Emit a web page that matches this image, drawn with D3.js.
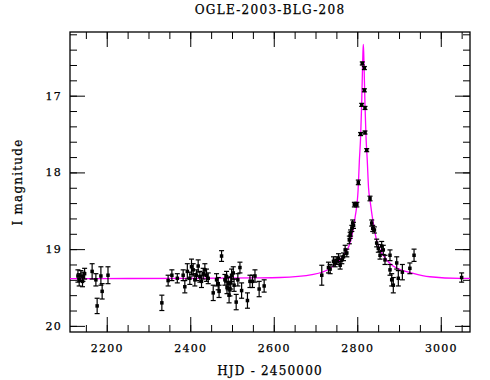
<!DOCTYPE html>
<html>
<head>
<meta charset="utf-8">
<script src="https://cdn.jsdelivr.net/npm/d3@7"></script>
<style>
  body { margin: 0; background: #fff; }
  svg text { font-family: "DejaVu Serif", serif; fill: #000; }
</style>
</head>
<body>
<svg id="chart" width="490" height="380"></svg>
<script>
// photometry
var hjd = [2131, 2134, 2138, 2142, 2143, 2147, 2165, 2174, 2177, 2186, 2189, 2203,
  2332, 2347, 2356, 2369, 2383, 2387, 2393, 2399, 2403, 2407, 2411, 2415, 2419, 2423,
  2427, 2431, 2435, 2439, 2443, 2455, 2463, 2467, 2469, 2475, 2483, 2487, 2488, 2491,
  2493, 2495, 2497, 2499, 2503, 2505, 2510, 2514, 2519, 2523, 2537, 2543, 2549, 2555,
  2565, 2577,
  2715, 2731, 2735, 2743, 2747, 2751, 2755, 2759, 2763, 2767, 2771, 2775, 2781, 2783,
  2784, 2787, 2789, 2791, 2793, 2799, 2802.5, 2808, 2810.6, 2812, 2817, 2817, 2818.5,
  2818.5, 2822.6, 2830.5, 2834.6, 2837, 2841, 2846.5, 2850.4, 2854.5, 2858.5, 2862.3,
  2866.4, 2878.4, 2878.4, 2882.5, 2886.3, 2894.5, 2898.3, 2908, 2926, 2936, 3050];
var mag = [19.35, 19.40, 19.35, 19.42, 19.36, 19.32, 19.29, 19.40, 19.74, 19.35, 19.55, 19.34,
  19.70, 19.41, 19.34, 19.38, 19.34, 19.49, 19.29, 19.38, 19.23, 19.27, 19.40, 19.34, 19.22, 19.36,
  19.42, 19.32, 19.27, 19.34, 19.38, 19.57, 19.40, 19.45, 19.55, 19.09, 19.40, 19.36, 19.50, 19.45,
  19.60, 19.53, 19.44, 19.34, 19.31, 19.47, 19.69, 19.40, 19.24, 19.54, 19.67, 19.42, 19.42, 19.35,
  19.52, 19.48,
  19.34, 19.24, 19.26, 19.16, 19.18, 19.15, 19.12, 19.21, 19.14, 19.10, 19.01, 19.05, 18.88, 18.82,
  18.79, 18.73, 18.66, 18.69, 18.42, 18.42, 18.13, 17.50, 17.12, 16.58, 16.64, 16.93, 17.16,
  17.48, 17.71, 18.34, 18.66, 18.73, 18.75, 18.92, 18.99, 19.08, 18.96, 19.01,
  19.14, 19.08, 19.27, 19.40, 19.47, 19.18, 19.38, 19.30, 19.25, 19.08, 19.37];
var magErr = [0.08, 0.08, 0.07, 0.07, 0.06, 0.07, 0.10, 0.08, 0.10, 0.12, 0.10, 0.11,
  0.10, 0.07, 0.07, 0.06, 0.07, 0.08, 0.10, 0.08, 0.10, 0.08, 0.08, 0.07, 0.08, 0.07,
  0.08, 0.07, 0.08, 0.08, 0.07, 0.10, 0.08, 0.08, 0.08, 0.07, 0.07, 0.07, 0.08, 0.08,
  0.10, 0.08, 0.08, 0.08, 0.08, 0.08, 0.10, 0.08, 0.07, 0.10, 0.10, 0.08, 0.08, 0.08,
  0.10, 0.08,
  0.13, 0.07, 0.06, 0.06, 0.05, 0.05, 0.06, 0.05, 0.05, 0.05, 0.06, 0.05, 0.05, 0.04,
  0.04, 0.04, 0.04, 0.04, 0.03, 0.03, 0.03, 0.02, 0.02, 0.02, 0.02, 0.02, 0.02,
  0.02, 0.02, 0.03, 0.04, 0.04, 0.04, 0.05, 0.05, 0.05, 0.06, 0.06,
  0.06, 0.07, 0.07, 0.08, 0.10, 0.08, 0.10, 0.10, 0.07, 0.08, 0.06];

// fitted model curve
var modelHjd = [2112, 2250, 2400, 2550, 2615, 2695, 2735, 2767, 2785, 2795, 2802, 2805,
  2808, 2810.5, 2812.5, 2813.5, 2814.5, 2815.5, 2816.5, 2818.5, 2821, 2824, 2827, 2831,
  2838, 2846, 2862, 2886, 2934, 2974, 3046, 3070];
var modelMag = [19.385, 19.383, 19.38, 19.375, 19.37, 19.33, 19.25, 19.08, 18.88, 18.58, 18.23, 17.85,
  17.54, 17.12, 16.66, 16.45, 16.33, 16.45, 16.66, 17.12, 17.54, 17.85, 18.2, 18.38,
  18.65, 18.88, 19.08, 19.22, 19.315, 19.36, 19.38, 19.38];

var xMajor = [2200, 2400, 2600, 2800, 3000];
var yMajor = [17, 18, 19, 20];

(function(){
  var svg = d3.select("#chart");
  var pL = 70, pR = 470, pT = 32, pB = 332;

  var x = d3.scaleLinear().domain([2112, 3070]).range([pL, pR]);
  var y = d3.scaleLinear().domain([16.17, 20.08]).range([pT, pB]);

  var xMinor = d3.range(2150, 3070, 50);
  var yMinor = d3.range(16.2, 20.08, 0.2).map(function(v){ return +v.toFixed(1); });

  function addAxis(gen, tx, ty){
    var g = svg.append("g").attr("transform", "translate(" + tx + "," + ty + ")").call(gen);
    g.select(".domain").remove();
    g.selectAll("line").attr("stroke", "#000").attr("stroke-width", 1);
    g.selectAll("text").style("font-family", "DejaVu Serif").style("font-size", "11px")
      .style("letter-spacing", "1.2px").attr("fill", "#000")
      .attr("stroke", "#000").attr("stroke-width", 0.25);
    return g;
  }

  // minor ticks on all four sides
  addAxis(d3.axisBottom(x).tickValues(xMinor).tickSize(-7).tickFormat(""), 0, pB);
  addAxis(d3.axisTop(x).tickValues(xMinor).tickSize(-7).tickFormat(""), 0, pT);
  addAxis(d3.axisLeft(y).tickValues(yMinor).tickSize(-7).tickFormat(""), pL, 0);
  addAxis(d3.axisRight(y).tickValues(yMinor).tickSize(-7).tickFormat(""), pR, 0);

  // major ticks, labels on bottom and left only
  addAxis(d3.axisBottom(x).tickValues(xMajor).tickSize(-15).tickPadding(12).tickFormat(d3.format("d")), 0, pB);
  addAxis(d3.axisTop(x).tickValues(xMajor).tickSize(-15).tickFormat(""), 0, pT);
  addAxis(d3.axisLeft(y).tickValues(yMajor).tickSize(-15).tickPadding(8).tickFormat(d3.format("d")), pL, 0);
  addAxis(d3.axisRight(y).tickValues(yMajor).tickSize(-15).tickFormat(""), pR, 0);

  // frame
  svg.append("rect")
    .attr("x", pL).attr("y", pT)
    .attr("width", pR - pL).attr("height", pB - pT)
    .attr("fill", "none").attr("stroke", "#000").attr("stroke-width", 1.3);

  // model
  var pts = modelHjd.map(function(t, i){ return [t, modelMag[i]]; });
  svg.append("path")
    .datum(pts)
    .attr("fill", "none")
    .attr("stroke", "#ff00ff")
    .attr("stroke-width", 1.3)
    .attr("d", d3.line().x(function(d){ return x(d[0]); }).y(function(d){ return y(d[1]); })
      .curve(d3.curveMonotoneX));

  // data with error bars
  var data = hjd.map(function(t, i){ return {t: t, m: mag[i], e: magErr[i]}; });
  var pt = svg.append("g").selectAll("g").data(data).enter().append("g");
  pt.append("line")
    .attr("x1", function(d){ return x(d.t); }).attr("x2", function(d){ return x(d.t); })
    .attr("y1", function(d){ return y(d.m - d.e); }).attr("y2", function(d){ return y(d.m + d.e); })
    .attr("stroke", "#000").attr("stroke-width", 1.2);
  [-1, 1].forEach(function(s){
    pt.append("line")
      .attr("x1", function(d){ return x(d.t) - 2.5; }).attr("x2", function(d){ return x(d.t) + 2.5; })
      .attr("y1", function(d){ return y(d.m + s * d.e); }).attr("y2", function(d){ return y(d.m + s * d.e); })
      .attr("stroke", "#000").attr("stroke-width", 1.2);
  });
  pt.append("rect")
    .attr("x", function(d){ return x(d.t) - 1.75; })
    .attr("y", function(d){ return y(d.m) - 1.75; })
    .attr("width", 3.5).attr("height", 3.5)
    .attr("fill", "#000");

  // titles
  function title(sel){
    return sel.attr("text-anchor", "middle")
      .style("font-size", "12px").style("letter-spacing", "1.2px")
      .attr("stroke", "#000").attr("stroke-width", 0.25);
  }
  title(svg.append("text").attr("x", (pL + pR) / 2).attr("y", 14))
    .style("letter-spacing", "1.3px")
    .text("OGLE-2003-BLG-208");
  title(svg.append("text").attr("x", (pL + pR) / 2).attr("y", 375))
    .text("HJD - 2450000");
  title(svg.append("text").attr("transform", "translate(22," + ((pT + pB) / 2) + ") rotate(-90)"))
    .text("I magnitude");
})();
</script>
</body>
</html>
